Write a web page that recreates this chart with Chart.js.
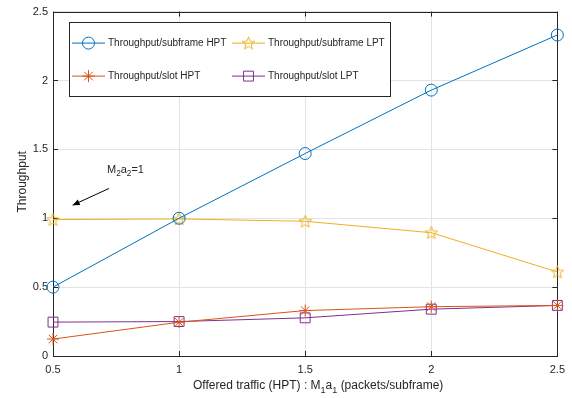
<!DOCTYPE html>
<html>
<head>
<meta charset="utf-8">
<script src="https://cdn.jsdelivr.net/npm/chart.js@4"></script>
<style>
    html, body { margin: 0; padding: 0; background: #fff; }
    #wrap { width: 572px; height: 398px; }
</style>
</head>
<body>
<div id="wrap"><canvas id="chart" width="572" height="398"></canvas></div>
<script>
// Offered traffic (HPT) on the x axis
const xValues = [0.5, 1, 1.5, 2, 2.5];

// Series
const subframeHpt = [0.50, 1.00, 1.47, 1.93, 2.33];
const subframeLpt = [0.99, 0.995, 0.978, 0.895, 0.61];
const slotHpt = [0.123, 0.245, 0.33, 0.358, 0.367];
const slotLpt = [0.246, 0.25, 0.277, 0.34, 0.367];

const xTicks = [0.5, 1, 1.5, 2, 2.5];
const yTicks = [0, 0.5, 1, 1.5, 2, 2.5];

const seriesLabels = [
    'Throughput/subframe HPT',
    'Throughput/subframe LPT',
    'Throughput/slot HPT',
    'Throughput/slot LPT'
];

// annotation "M2a2=1" with arrow, in data units
const noteText = { x: 0.714, y: 1.33 };
const noteArrow = { x1: 0.722, y1: 1.216, x2: 0.578, y2: 1.095 };

const FONT = '"Liberation Sans", Arial, Helvetica, sans-serif';
const AXIS = '#262626';

const BLUE = '#0072BD';
const ORANGE = '#D95319';
const YELLOW = '#EDB120';
const PURPLE = '#7E2F8E';

function makeStar(color) {
    const c = document.createElement('canvas');
    c.width = 15;
    c.height = 15;
    const g = c.getContext('2d');
    const cx = 7.5, cy = 8, ro = 6.6, ri = 2.8;
    g.beginPath();
    for (let i = 0; i < 10; i++) {
        const r = i % 2 === 0 ? ro : ri;
        const a = -Math.PI / 2 + i * Math.PI / 5;
        const px = cx + r * Math.cos(a);
        const py = cy + r * Math.sin(a);
        if (i === 0) g.moveTo(px, py); else g.lineTo(px, py);
    }
    g.closePath();
    g.strokeStyle = color;
    g.lineWidth = 1;
    g.stroke();
    return c;
}

const starImg = makeStar(YELLOW);

function toPoints(ys) {
    return xValues.map((x, i) => ({ x: x, y: ys[i] }));
}

function fmt(v) {
    return String(Math.round(v * 10) / 10);
}

// draw text with subscript parts
function richWidth(ctx, parts, size) {
    let w = 0;
    parts.forEach(p => {
        ctx.font = (p.sub ? size * 0.75 : size) + 'px ' + FONT;
        w += ctx.measureText(p.t).width;
    });
    return w;
}

function drawRich(ctx, parts, x, y, size, align) {
    const total = richWidth(ctx, parts, size);
    let cx = align === 'center' ? x - total / 2 : x;
    ctx.textBaseline = 'alphabetic';
    ctx.textAlign = 'left';
    ctx.fillStyle = AXIS;
    parts.forEach(p => {
        ctx.font = (p.sub ? size * 0.75 : size) + 'px ' + FONT;
        ctx.fillText(p.t, cx, p.sub ? y + size * 0.3 : y);
        cx += ctx.measureText(p.t).width;
    });
}

const frame = {
    id: 'frame',
    beforeDatasetsDraw(chart) {
        const { ctx, chartArea: a, scales } = chart;
        ctx.save();
        ctx.strokeStyle = AXIS;
        ctx.lineWidth = 1;
        ctx.strokeRect(Math.round(a.left) + 0.5, Math.round(a.top) + 0.5,
            Math.round(a.right - a.left), Math.round(a.bottom - a.top));
        const tl = 5;
        ctx.beginPath();
        xTicks.forEach(v => {
            const px = Math.round(scales.x.getPixelForValue(v)) + 0.5;
            ctx.moveTo(px, a.bottom); ctx.lineTo(px, a.bottom - tl);
            ctx.moveTo(px, a.top); ctx.lineTo(px, a.top + tl);
        });
        yTicks.forEach(v => {
            const py = Math.round(scales.y.getPixelForValue(v)) + 0.5;
            ctx.moveTo(a.left, py); ctx.lineTo(a.left + tl, py);
            ctx.moveTo(a.right, py); ctx.lineTo(a.right - tl, py);
        });
        ctx.stroke();
        ctx.restore();
    },
    afterDraw(chart) {
        const { ctx, chartArea: a, scales } = chart;
        ctx.save();

        // axis titles
        drawRich(ctx, [
            { t: 'Offered traffic (HPT) : M' }, { t: '1', sub: true },
            { t: 'a' }, { t: '1', sub: true }, { t: ' (packets/subframe)' }
        ], (a.left + a.right) / 2 + 13, 389, 12, 'center');

        ctx.save();
        ctx.translate(26, (a.top + a.bottom) / 2 - 2);
        ctx.rotate(-Math.PI / 2);
        ctx.font = '12px ' + FONT;
        ctx.fillStyle = AXIS;
        ctx.textAlign = 'center';
        ctx.textBaseline = 'alphabetic';
        ctx.fillText('Throughput', 0, 0);
        ctx.restore();

        // annotation
        const tx = scales.x.getPixelForValue(noteText.x);
        const ty = scales.y.getPixelForValue(noteText.y);
        drawRich(ctx, [
            { t: 'M' }, { t: '2', sub: true }, { t: 'a' }, { t: '2', sub: true }, { t: '=1' }
        ], tx, ty, 11, 'left');

        const x1 = scales.x.getPixelForValue(noteArrow.x1);
        const y1 = scales.y.getPixelForValue(noteArrow.y1);
        const x2 = scales.x.getPixelForValue(noteArrow.x2);
        const y2 = scales.y.getPixelForValue(noteArrow.y2);
        ctx.strokeStyle = '#000';
        ctx.fillStyle = '#000';
        ctx.lineWidth = 1;
        ctx.beginPath();
        ctx.moveTo(x1, y1);
        ctx.lineTo(x2, y2);
        ctx.stroke();
        const ang = Math.atan2(y2 - y1, x2 - x1);
        const hl = 7, hw = 3;
        ctx.beginPath();
        ctx.moveTo(x2, y2);
        ctx.lineTo(x2 - hl * Math.cos(ang) + hw * Math.sin(ang), y2 - hl * Math.sin(ang) - hw * Math.cos(ang));
        ctx.lineTo(x2 - hl * Math.cos(ang) - hw * Math.sin(ang), y2 - hl * Math.sin(ang) + hw * Math.cos(ang));
        ctx.closePath();
        ctx.fill();

        // legend box, two columns
        const lx = a.left + 16, ly = a.top + 10, lw = 321, lh = 74;
        ctx.fillStyle = '#fff';
        ctx.fillRect(lx, ly, lw, lh);
        ctx.strokeStyle = AXIS;
        ctx.lineWidth = 1;
        ctx.strokeRect(Math.round(lx) + 0.5, Math.round(ly) + 0.5, lw, lh);

        const cols = [lx + 3, lx + 163];
        const rows = [ly + 21.5, ly + 54.5];
        chart.data.datasets.forEach((ds, i) => {
            const sx = cols[i % 2];
            const sy = rows[Math.floor(i / 2)];
            ctx.strokeStyle = ds.borderColor;
            ctx.lineWidth = 1;
            ctx.beginPath();
            ctx.moveTo(sx, sy);
            ctx.lineTo(sx + 33, sy);
            ctx.stroke();
            ctx.fillStyle = 'rgba(0,0,0,0)';
            Chart.helpers.drawPoint(ctx, {
                pointStyle: ds.pointStyle,
                radius: ds.pointRadius,
                borderWidth: 1,
                rotation: 0
            }, sx + 16.5, sy);
            ctx.font = '10px ' + FONT;
            ctx.fillStyle = AXIS;
            ctx.textAlign = 'left';
            ctx.textBaseline = 'middle';
            ctx.fillText(ds.label, sx + 36, sy + 0.5);
        });

        ctx.restore();
    }
};

function lineSet(label, ys, color, style, radius) {
    return {
        label: label,
        data: toPoints(ys),
        borderColor: color,
        backgroundColor: 'rgba(0,0,0,0)',
        borderWidth: 1,
        pointStyle: style,
        pointRadius: radius,
        pointBorderColor: color,
        pointBorderWidth: 1,
        pointBackgroundColor: 'rgba(0,0,0,0)',
        tension: 0,
        clip: false
    };
}

new Chart(document.getElementById('chart'), {
    type: 'line',
    data: {
        datasets: [
            lineSet(seriesLabels[0], subframeHpt, BLUE, 'circle', 6),
            lineSet(seriesLabels[1], subframeLpt, YELLOW, starImg, 7),
            lineSet(seriesLabels[2], slotHpt, ORANGE, 'star', 6),
            lineSet(seriesLabels[3], slotLpt, PURPLE, 'rect', 7)
        ]
    },
    options: {
        responsive: false,
        animation: false,
        events: [],
        layout: { padding: { left: 0, right: 14, top: 11, bottom: 0 } },
        plugins: {
            legend: { display: false },
            tooltip: { enabled: false }
        },
        scales: {
            x: {
                type: 'linear',
                min: 0.5,
                max: 2.5,
                afterBuildTicks: axis => { axis.ticks = xTicks.map(v => ({ value: v })); },
                afterFit: axis => { axis.height = 42; },
                grid: { color: '#e3e3e3', drawTicks: false },
                border: { display: false },
                ticks: {
                    padding: 7,
                    color: AXIS,
                    font: { family: FONT, size: 11 },
                    callback: v => fmt(v)
                }
            },
            y: {
                min: 0,
                max: 2.5,
                afterBuildTicks: axis => { axis.ticks = yTicks.map(v => ({ value: v })); },
                afterFit: axis => { axis.width = 53; },
                grid: { color: '#e3e3e3', drawTicks: false },
                border: { display: false },
                ticks: {
                    padding: 5,
                    color: AXIS,
                    font: { family: FONT, size: 11 },
                    callback: v => fmt(v)
                }
            }
        }
    },
    plugins: [frame]
});
</script>
</body>
</html>
